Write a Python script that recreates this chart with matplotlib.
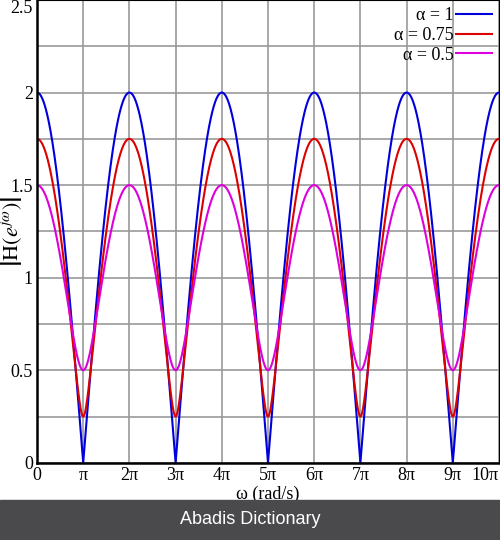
import numpy as np
import matplotlib.pyplot as plt

plt.rcParams['font.family'] = ['Liberation Serif', 'DejaVu Serif']
plt.rcParams['mathtext.fontset'] = 'stix'

# filter coefficients and their line colours
alphas = [1, 0.75, 0.5]
labels = ['α = 1', 'α = 0.75', 'α = 0.5']
colors = ['#0000dd', '#dd0000', '#dd00dd']

# x ticks at multiples of pi
xtick_mult = list(range(0, 11))
xtick_labels = ['0', 'π', '2π', '3π', '4π', '5π', '6π', '7π', '8π', '9π', '10π']
ytick_vals = [0, 0.5, 1, 1.5, 2, 2.5]
ytick_labels = ['0', '0.5', '1', '1.5', '2', '2.5']

w = np.linspace(0, 10 * np.pi, 4001)

fig = plt.figure(figsize=(5, 5.4), dpi=100)
ax = fig.add_axes([0.074, 0.143, 0.924, 0.857])

for a, lab, c in zip(alphas, labels, colors):
    # magnitude response of y[n] = x[n] + a x[n-1]
    H = np.abs(1 + a * np.exp(-1j * w))
    ax.plot(w, H, color=c, lw=1.5, label=lab)

ax.set_xlim(0, 10 * np.pi)
ax.set_ylim(0, 2.5)
ax.set_xticks([k * np.pi for k in xtick_mult])
ax.set_xticklabels(xtick_labels)
ax.set_yticks(ytick_vals)
ax.set_yticklabels(ytick_labels)
ax.set_yticks(np.arange(0, 2.51, 0.25), minor=True)
ax.grid(True, which='both', color='#999999', lw=1.2)
ax.set_axisbelow(True)
ax.tick_params(which='both', length=0, labelsize=13, pad=3)
# keep the edge labels inside the figure
ax.get_xticklabels()[-1].set_ha('right')
ax.get_yticklabels()[-1].set_va('top')

for s in ['left', 'bottom']:
    ax.spines[s].set_linewidth(1.8)
for s in ['top', 'right']:
    ax.spines[s].set_linewidth(0.8)

ax.set_xlabel('ω (rad/s)', fontsize=13, labelpad=1)
ax.set_ylabel(r'$\left|\mathrm{H}(e^{j\omega})\right|$', fontsize=16, va='center')
ax.yaxis.set_label_coords(-0.054, 0.5)

leg = ax.legend(loc='upper right', frameon=False, fontsize=13, markerfirst=False,
                handlelength=2.0, handletextpad=0.1, labelspacing=0.15,
                borderaxespad=0.1, borderpad=0.3)
for t in leg.get_texts():
    t.set_ha('right')

# footer band
fig.patches.append(plt.Rectangle((0, 0), 1, 40 / 540, transform=fig.transFigure,
                                 color='#4a4a4c', zorder=0))
fig.text(0.5, 20 / 540, 'Abadis Dictionary', color='white', ha='center', va='center',
         fontsize=13, family='Liberation Sans')

fig.savefig('out.png', dpi=100)
